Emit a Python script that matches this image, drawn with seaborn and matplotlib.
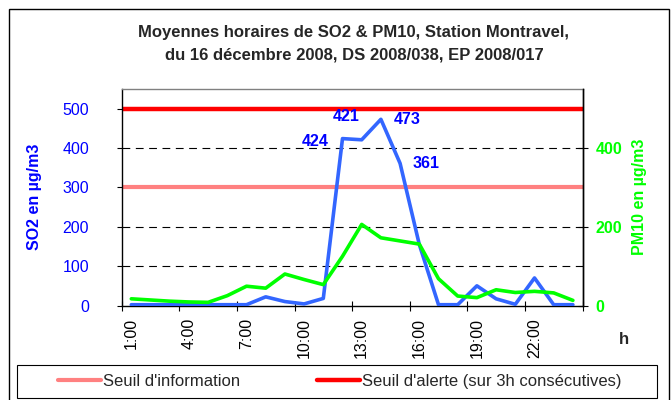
import matplotlib
matplotlib.use("Agg")
import matplotlib.pyplot as plt
import numpy as np
import pandas as pd
import seaborn as sns
from matplotlib.lines import Line2D
from matplotlib.patches import Rectangle

# --- données ---
heures = list(range(1, 25))
so2 = [2, 2, 2, 2, 2, 2, 2, 22, 10, 4, 18, 424, 421, 473, 361, 155, 2, 2, 50, 17, 3, 70, 2, 2]
pm10 = [17, 14, 11, 9, 8, 25, 49, 44, 80, 66, 53, 125, 206, 172, 164, 156, 68, 24, 20, 40, 33, 36, 32, 13]
etiquettes_x = ["1:00", "4:00", "7:00", "10:00", "13:00", "16:00", "19:00", "22:00"]
heures_etiquettes = [1, 4, 7, 10, 13, 16, 19, 22]
seuil_info = 300
seuil_alerte = 500
# valeurs annotées (heure, valeur, décalage en points)
annotations = [(12, 424, (-20, -2)), (13, 421, (-11, 17)), (14, 473, (19, 0)), (15, 361, (19, 0))]

df = pd.DataFrame({"heure": heures, "SO2": so2, "PM10": pm10})

sns.set_theme(style="white")
plt.rcParams["font.family"] = ["Liberation Sans", "DejaVu Sans"]

BLEU = "#3366FF"
VERT = "#00FF00"
FS = 11.5
FS_TITRE = 12

fig = plt.figure(figsize=(6.71, 4.0), dpi=100)
fig.patch.set_facecolor("white")
ax = fig.add_axes([121.7 / 671, 1 - 305.5 / 400, 460.8 / 671, 216.5 / 400])
ax2 = ax.twinx()

# grille pointillée + seuils
for g in [100, 200, 400]:
    ax.axhline(g, color="black", lw=0.8, ls=(0, (7, 5)), zorder=1)
ax.axhline(seuil_info, color="#FF8080", lw=3, zorder=2)
ax.axhline(seuil_alerte, color="#FF0000", lw=3.2, zorder=2)

sns.lineplot(data=df, x="heure", y="SO2", ax=ax, color=BLEU, lw=2.6, zorder=3)
sns.lineplot(data=df, x="heure", y="PM10", ax=ax2, color=VERT, lw=2.6)

for h, v, off in annotations:
    ax.annotate(str(v), xy=(h, v), xytext=off, textcoords="offset points",
                ha="center", va="center", color="#0000FF", fontsize=FS,
                fontweight="bold", zorder=5)

ax.set_xlim(0.5, 24.5)
ax.set_ylim(0, 550)
ax2.set_ylim(0, 550)
ax.set_yticks(range(0, 501, 100))
ax2.set_yticks([0, 200, 400])

ax.set_xticks(np.arange(0.5, 25, 3))
ax.set_xticks(heures_etiquettes, minor=True)
ax.set_xticklabels([], minor=False)
ax.set_xticklabels(etiquettes_x, minor=True, rotation=90)
ax.tick_params(axis="x", which="major", bottom=True, direction="inout", length=7,
               width=0.8, color="black")
ax.tick_params(axis="x", which="minor", bottom=True, length=0, pad=9,
               labelsize=FS, labelcolor="black")
ax.tick_params(axis="y", left=True, direction="out", length=3.6, width=0.8,
               color="black", pad=20, labelsize=FS, labelcolor="#0000FF")
ax2.tick_params(axis="y", right=True, direction="inout", length=7, width=0.8,
                color="black", pad=6, labelsize=FS, labelcolor=VERT)
for lab in ax2.get_yticklabels():
    lab.set_fontweight("bold")

ax.set_xlabel("")
ax.set_ylabel("SO2 en µg/m3", color="#0000FF", fontweight="bold", fontsize=FS)
ax.yaxis.set_label_coords(-0.173, 0.5)
ax2.set_ylabel("PM10 en µg/m3", color=VERT, fontweight="bold", fontsize=FS)
ax2.yaxis.set_label_coords(1.108, 0.5)

for nom, sp in ax.spines.items():
    sp.set_linewidth(1)
    sp.set_color("black")
ax.spines["top"].set_color("#808080")
for nom, sp in ax2.spines.items():
    sp.set_visible(nom == "right")
ax2.spines["right"].set_color("black")
ax2.spines["right"].set_linewidth(1)

# titre
fig.text(354 / 671, 1 - 33 / 400, "Moyennes horaires de SO2 & PM10, Station Montravel,",
         ha="center", va="center", fontweight="bold", fontsize=FS_TITRE)
fig.text(354 / 671, 1 - 55 / 400, "du 16 décembre 2008, DS 2008/038, EP 2008/017",
         ha="center", va="center", fontweight="bold", fontsize=FS_TITRE)
fig.text(624 / 671, 1 - 339 / 400, "h", ha="center", va="center",
         fontweight="bold", fontsize=FS_TITRE)

# cadre extérieur et cadre de légende
fig.patches.append(Rectangle((9 / 671, -0.02), 660 / 671, 0.9975, transform=fig.transFigure,
                             fill=False, edgecolor="black", lw=1))
fig.patches.append(Rectangle((17 / 671, 2 / 400), 640 / 671, 33 / 400, transform=fig.transFigure,
                             facecolor="white", edgecolor="black", lw=0.8))
poignees = [Line2D([], [], color="#FF8080", lw=3), Line2D([], [], color="#FF0000", lw=3.2)]
fig.legend(poignees, ["Seuil d'information", "Seuil d'alerte (sur 3h consécutives)"],
           ncol=2, frameon=False, loc="center left", bbox_to_anchor=(58 / 671, 1 - 381.5 / 400),
           borderpad=0, borderaxespad=0, handlelength=2.58, handletextpad=0.12,
           columnspacing=4.62, fontsize=FS_TITRE)

fig.savefig("out.png", dpi=100)
